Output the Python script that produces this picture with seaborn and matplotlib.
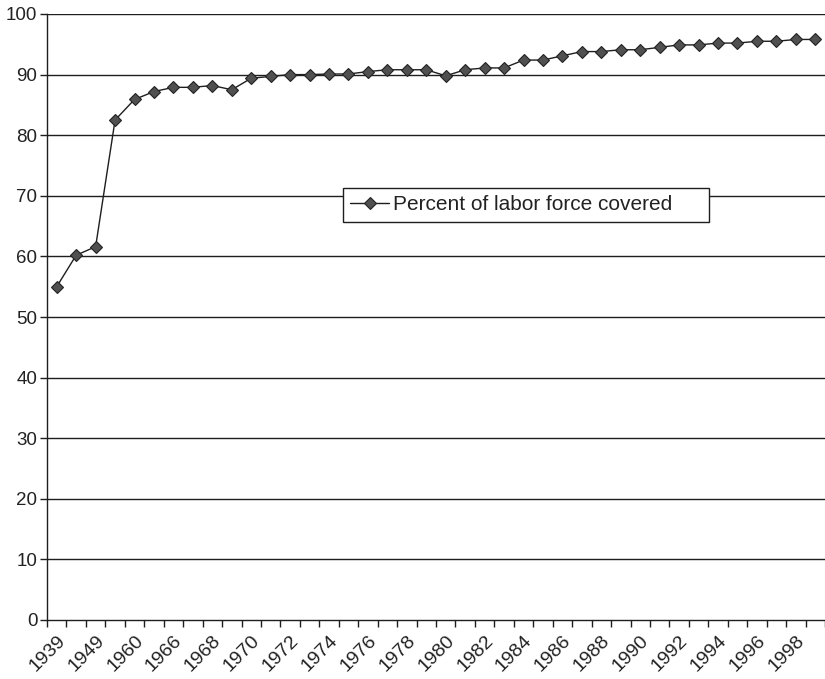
import matplotlib
matplotlib.use('Agg')
import matplotlib.pyplot as plt
import numpy as np
import pandas as pd
import seaborn as sns

# categorias (anos) - so os anos pares aparecem no eixo
years = ['1939', '1944', '1949', '1955', '1960', '1965', '1966', '1967', '1968', '1969',
         '1970', '1971', '1972', '1973', '1974', '1975', '1976', '1977', '1978', '1979',
         '1980', '1981', '1982', '1983', '1984', '1985', '1986', '1987', '1988', '1989',
         '1990', '1991', '1992', '1993', '1994', '1995', '1996', '1997', '1998', '1999']
covered = [55.0, 60.2, 61.6, 82.5, 85.9, 87.2, 87.9, 87.9, 88.2, 87.5,
           89.4, 89.7, 90.0, 90.0, 90.1, 90.1, 90.5, 90.8, 90.8, 90.8,
           89.8, 90.8, 91.1, 91.1, 92.4, 92.4, 93.1, 93.8, 93.8, 94.1,
           94.1, 94.5, 94.9, 94.9, 95.2, 95.2, 95.5, 95.5, 95.8, 95.8]
tick_labels = years[::2]
yticks = list(range(0, 101, 10))

df = pd.DataFrame({'ano': years, 'cobertura': covered})

sns.set_style('white')
plt.rcParams['font.family'] = ['Liberation Sans', 'DejaVu Sans']
txt = '#222222'

fig = plt.figure(figsize=(8.25, 6.79), dpi=100)
ax = fig.add_axes([47/825, 1-620/679, 778/825, 606/679])

sns.lineplot(data=df, x='ano', y='cobertura', ax=ax, color='#1e1e1e', linewidth=1.0,
             marker='D', markersize=6.5, markerfacecolor='#505050', markeredgecolor='#222222',
             markeredgewidth=0.8, label='Percent of labor force covered', sort=False)

ax.set_xlim(-0.5, len(years) - 0.5)
ax.set_ylim(0, 100)
ax.set_yticks(yticks)
ax.set_yticklabels([str(v) for v in yticks], fontsize=13.5, color=txt)
for v in yticks[1:]:
    ax.axhline(v, color='#1e1e1e', linewidth=1.0, zorder=0)

ax.set_xticks(np.arange(0, len(years), 2))
ax.set_xticklabels(tick_labels, rotation=45, ha='right', rotation_mode='anchor',
                   fontsize=14, color=txt)
ax.set_xticks(np.arange(-0.5, len(years), 1), minor=True)
ax.tick_params(axis='x', which='both', bottom=True)
ax.tick_params(axis='y', left=True)
ax.tick_params(axis='x', which='major', length=0, pad=9)
ax.tick_params(axis='x', which='minor', length=5, width=1, color='#1e1e1e', direction='out')
ax.tick_params(axis='y', length=5, width=1, color='#1e1e1e', direction='out', pad=2)

ax.set_xlabel('')
ax.set_ylabel('')
for s in ['top', 'right']:
    ax.spines[s].set_visible(False)
for s in ['left', 'bottom']:
    ax.spines[s].set_color('#1e1e1e')
    ax.spines[s].set_linewidth(1.0)

# caixa da legenda com espaco a direita, como no original
leg = ax.legend(loc='center', bbox_to_anchor=(0.3805, 0.657, 0.4705, 0.056), mode='expand',
                fontsize=15, frameon=True, fancybox=False, framealpha=1, edgecolor='#1e1e1e',
                borderpad=0.35, handlelength=1.85, handletextpad=0.2, borderaxespad=0)
leg.get_frame().set_linewidth(1.0)
for t in leg.get_texts():
    t.set_color(txt)

plt.savefig('out.png', dpi=100)
